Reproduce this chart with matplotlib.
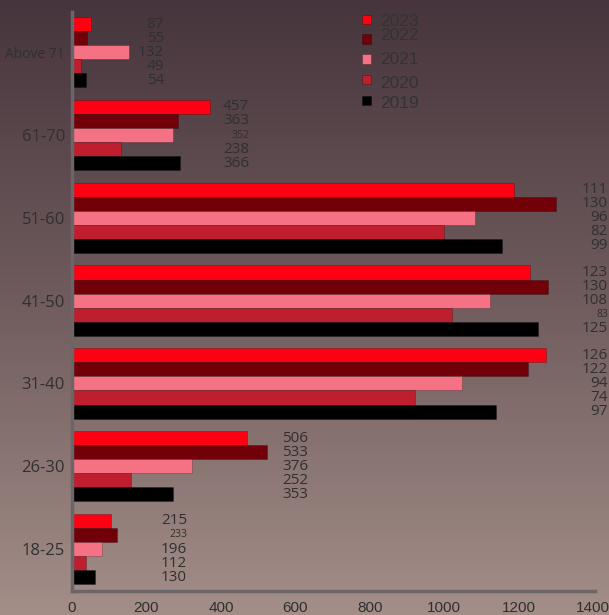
#Bar chart of age groups by year, recreated with matplotlib.
import numpy as np
import matplotlib.pyplot as plt
from matplotlib.patches import Rectangle
from matplotlib.colors import LinearSegmentedColormap

##Data##
Groups = ['18-25', '26-30', '31-40', '41-50', '51-60', '61-70', 'Above 71']
Years = ['2023', '2022', '2021', '2020', '2019']

#Bar lengths.
Bars_2023 = [105, 470, 1274, 1231, 1188, 372, 50]
Bars_2022 = [121, 524, 1226, 1280, 1301, 286, 40]
Bars_2021 = [81, 323, 1048, 1124, 1083, 272, 153]
Bars_2020 = [38, 159, 922, 1021, 1000, 131, 24]
Bars_2019 = [62, 272, 1140, 1253, 1156, 291, 37]

#Value labels as printed next to the bars (right ones are cut by the edge).
Labels_2023 = ['215', '506', '126', '123', '111', '457', '87']
Labels_2022 = ['233', '533', '122', '130', '130', '363', '55']
Labels_2021 = ['196', '376', '94', '108', '96', '352', '132']
Labels_2020 = ['112', '252', '74', '83', '82', '238', '49']
Labels_2019 = ['130', '353', '97', '125', '99', '366', '54']

X_ticks = [0, 200, 400, 600, 800, 1000, 1200, 1400]

##Style##
Colors = ['#ff0012', '#720009', '#f57285', '#be1e2d', '#000000']
Offsets = [0.34, 0.17, 0.0, -0.17, -0.34]
Bar_height = 0.17
Label_x = [309, 635, 1440, 1440, 1440, 476, 247]
Small_labels = {('2021', 5), ('2022', 0), ('2020', 3)}
Text_color = '#303030'

W, H = 609, 615
fig = plt.figure(figsize=(W / 100, H / 100), dpi=100)

#Background gradient over the whole figure.
bg = fig.add_axes([0, 0, 1, 1], zorder=-1)
cmap = LinearSegmentedColormap.from_list('bg', ['#47353d', '#715d5e', '#a38e88'])
grad = np.linspace(0, 1, 256).reshape(-1, 1)
bg.imshow(grad, aspect='auto', cmap=cmap, extent=[0, 1, 0, 1], origin='upper')
bg.axis('off')

#Main axes placed by pixels.
ax_left, ax_right, ax_top, ax_bottom = 72, 595, 12, 591
ax = fig.add_axes([ax_left / W, (H - ax_bottom) / H, (ax_right - ax_left) / W, (ax_bottom - ax_top) / H])
ax.set_facecolor('none')

All_bars = [Bars_2023, Bars_2022, Bars_2021, Bars_2020, Bars_2019]
All_labels = [Labels_2023, Labels_2022, Labels_2021, Labels_2020, Labels_2019]
pos = np.arange(len(Groups))

for i, year in enumerate(Years):
    ax.barh(pos + Offsets[i], All_bars[i], height=Bar_height, color=Colors[i],
            edgecolor=(0, 0, 0, 0.25), linewidth=0.6, zorder=2)
    for j, txt in enumerate(All_labels[i]):
        size = 7.5 if (year, j) in Small_labels else 11
        ax.text(Label_x[j], pos[j] + Offsets[i], txt, ha='right', va='center',
                fontsize=size, color=Text_color, family='Open Sans', clip_on=False)

ax.set_xlim(0, 1405)
ax.set_ylim(-0.507, 6.486)
ax.set_xticks(X_ticks)
ax.set_xticklabels([str(t) for t in X_ticks], family='Liberation Sans', fontsize=11, color=Text_color)
ax.set_yticks(pos)
ax.set_yticklabels(Groups, family='Open Sans', fontsize=12, color=Text_color)
#The top group label is printed smaller in the original.
ax.get_yticklabels()[-1].set_fontsize(10)
ax.tick_params(axis='both', length=0)
ax.tick_params(axis='x', pad=7)
ax.tick_params(axis='y', pad=5)

for side in ['top', 'right']:
    ax.spines[side].set_visible(False)
for side in ['left', 'bottom']:
    ax.spines[side].set_color('#6a6668')
    ax.spines[side].set_linewidth(2.5)

#Legend drawn by hand to keep its uneven spacing.
sq_y = [19.5, 39, 59, 79, 100]
txt_y = [22, 36, 60, 83, 104]
for i, year in enumerate(Years):
    fig.add_artist(Rectangle(((362) / W, (H - sq_y[i] - 4.5) / H), 9 / W, 9 / H,
                             transform=fig.transFigure, facecolor=Colors[i],
                             edgecolor=(0, 0, 0, 0.3), linewidth=0.6))
    fig.text(380 / W, (H - txt_y[i]) / H, year, ha='left', va='center',
             fontsize=12.5, color='#333333', family='Liberation Sans')

plt.savefig('out.png', dpi=100)
